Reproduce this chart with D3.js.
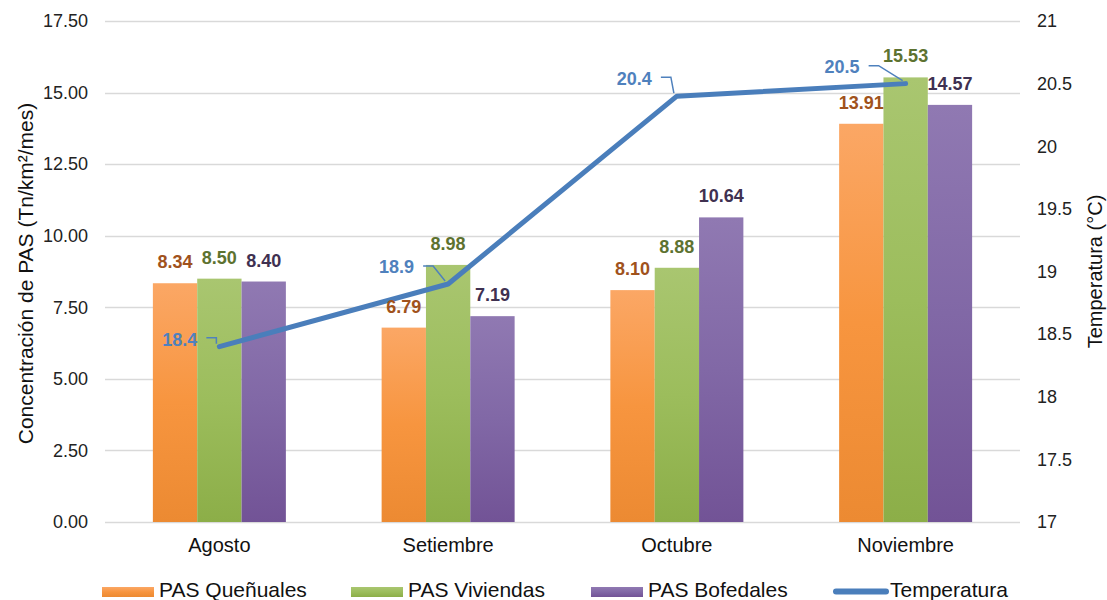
<!DOCTYPE html>
<html>
<head>
<meta charset="utf-8">
<script src="https://cdn.jsdelivr.net/npm/d3@7"></script>
<style>
  body { margin: 0; background: #fff; }
  svg { display: block; font-family: "Liberation Sans", Arial, sans-serif; }
</style>
</head>
<body>
<svg id="chart" width="1107" height="600"></svg>
<script>
// ---- data ----
const categories = ["Agosto", "Setiembre", "Octubre", "Noviembre"];
const seriesNames = ["PAS Queñuales", "PAS Viviendas", "PAS Bofedales"];
const pasQuenuales = [8.34, 6.79, 8.10, 13.91];
const pasViviendas = [8.50, 8.98, 8.88, 15.53];
const pasBofedales = [8.40, 7.19, 10.64, 14.57];
const temperatura = [18.4, 18.9, 20.4, 20.5];
const leftTicks = [0, 2.5, 5, 7.5, 10, 12.5, 15, 17.5];
const rightTicks = [17, 17.5, 18, 18.5, 19, 19.5, 20, 20.5, 21];

// ---- style ----
const barSeries = [pasQuenuales, pasViviendas, pasBofedales];
const gradStops = [
  ["#fba765", "#f7953f", "#ec8a32"],
  ["#a9c670", "#9cbd5c", "#8cae48"],
  ["#9079b2", "#8168a6", "#725396"]
];
const labelColors = ["#a0521c", "#5d7230", "#3f3151"];
const lineColor = "#4a7ebb";
const tempLabelColor = "#4f81bd";
// label placement nudges for temperature labels: [text end dx, baseline dy, leader dy]
const tempLabelNudge = [[-22, -1, -9], [-34, -11, -18], [-25, -11, -19], [-46, -11, -18]];

const svg = d3.select("#chart");
const plot = { left: 105, right: 1020, top: 21, bottom: 522 };

const x0 = d3.scaleBand().domain(categories).range([plot.left, plot.right]).padding(0);
const bw = x0.bandwidth();
const groupW = 133;
const x1 = d3.scaleBand().domain(seriesNames).range([(bw - groupW) / 2, (bw + groupW) / 2]).padding(0);
const yL = d3.scaleLinear().domain([0, 17.5]).range([plot.bottom, plot.top]);
const yR = d3.scaleLinear().domain([17, 21]).range([plot.bottom, plot.top]);

// gradients
const defs = svg.append("defs");
gradStops.forEach((stops, i) => {
  const g = defs.append("linearGradient").attr("id", "g" + i)
    .attr("x1", 0).attr("y1", 0).attr("x2", 0).attr("y2", 1);
  g.append("stop").attr("offset", "0%").attr("stop-color", stops[0]);
  g.append("stop").attr("offset", "50%").attr("stop-color", stops[1]);
  g.append("stop").attr("offset", "100%").attr("stop-color", stops[2]);
});

// grid lines
svg.append("g").selectAll("line").data(leftTicks).join("line")
  .attr("x1", plot.left).attr("x2", plot.right)
  .attr("y1", d => Math.round(yL(d)) + 0.5).attr("y2", d => Math.round(yL(d)) + 0.5)
  .attr("stroke", "#d9d9d9").attr("stroke-width", 1.5);

const FONT = "Liberation Sans, Arial, sans-serif";

// left axis
const axL = svg.append("g").attr("transform", `translate(${plot.left},0)`)
  .call(d3.axisLeft(yL).tickValues(leftTicks).tickFormat(d3.format(".2f")).tickSize(0).tickPadding(17));
axL.select(".domain").remove();
axL.selectAll("text").attr("font-size", 18).attr("fill", "#222").attr("font-family", FONT);

// right axis
const axR = svg.append("g").attr("transform", `translate(${plot.right},0)`)
  .call(d3.axisRight(yR).tickValues(rightTicks).tickFormat(d => String(d)).tickSize(0).tickPadding(17));
axR.select(".domain").remove();
axR.selectAll("text").attr("font-size", 18).attr("fill", "#222").attr("font-family", FONT);

// category axis
const axB = svg.append("g").attr("transform", `translate(0,${plot.bottom})`)
  .call(d3.axisBottom(x0).tickSize(0).tickPadding(16));
axB.select(".domain").remove();
axB.selectAll("text").attr("font-size", 20).attr("fill", "#111").attr("font-family", FONT);

// bars
barSeries.forEach((vals, si) => {
  const g = svg.append("g");
  g.selectAll("rect").data(vals).join("rect")
    .attr("x", (d, i) => x0(categories[i]) + x1(seriesNames[si]))
    .attr("width", x1.bandwidth())
    .attr("y", d => yL(d))
    .attr("height", d => yL(0) - yL(d))
    .attr("fill", `url(#g${si})`);
});

// temperature line
const line = d3.line()
  .x((d, i) => x0(categories[i]) + bw / 2)
  .y(d => yR(d));
svg.append("path").datum(temperatura)
  .attr("d", line).attr("fill", "none")
  .attr("stroke", lineColor).attr("stroke-width", 5).attr("stroke-linecap", "round").attr("stroke-linejoin", "round");

// bar labels
barSeries.forEach((vals, si) => {
  svg.append("g").selectAll("text").data(vals).join("text")
    .attr("x", (d, i) => x0(categories[i]) + x1(seriesNames[si]) + x1.bandwidth() / 2)
    .attr("y", d => yL(d) - 15)
    .attr("text-anchor", "middle")
    .attr("font-size", 18).attr("font-weight", "bold")
    .attr("fill", labelColors[si])
    .text(d => d.toFixed(2));
});

// temperature labels with leader lines
temperatura.forEach((t, i) => {
  const px = x0(categories[i]) + bw / 2;
  const py = yR(t);
  const [dx, dyText, dyLead] = tempLabelNudge[i];
  const tx = px + dx;
  svg.append("text")
    .attr("x", tx).attr("y", py + dyText)
    .attr("text-anchor", "end")
    .attr("font-size", 18).attr("font-weight", "bold")
    .attr("fill", tempLabelColor)
    .text(t.toFixed(1));
  const lx = tx + 9;
  const ly = py + dyLead;
  svg.append("path")
    .attr("d", `M${lx},${ly} L${lx + 10},${ly} L${px - 3},${py - 3}`)
    .attr("fill", "none").attr("stroke", tempLabelColor).attr("stroke-width", 1.5);
});

// axis titles
svg.append("text")
  .attr("transform", `translate(33,${(plot.top + plot.bottom) / 2 + 2}) rotate(-90)`)
  .attr("text-anchor", "middle").attr("font-size", 21).attr("fill", "#111")
  .text("Concentración de PAS (Tn/km²/mes)");
svg.append("text")
  .attr("transform", `translate(1102,${(plot.top + plot.bottom) / 2}) rotate(-90)`)
  .attr("text-anchor", "middle").attr("font-size", 20).attr("fill", "#111")
  .text("Temperatura (°C)");

// legend
const legendItems = [
  { name: seriesNames[0], type: "bar", i: 0, x: 102 },
  { name: seriesNames[1], type: "bar", i: 1, x: 351 },
  { name: seriesNames[2], type: "bar", i: 2, x: 591 },
  { name: "Temperatura", type: "line", x: 833 }
];
const lg = svg.append("g");
legendItems.forEach(it => {
  if (it.type === "bar") {
    lg.append("rect").attr("x", it.x).attr("y", 587).attr("width", 52).attr("height", 10)
      .attr("fill", `url(#g${it.i})`);
  } else {
    lg.append("line").attr("x1", it.x + 3).attr("x2", it.x + 53).attr("y1", 591.5).attr("y2", 591.5)
      .attr("stroke", lineColor).attr("stroke-width", 6).attr("stroke-linecap", "round");
  }
  lg.append("text").attr("x", it.x + 57).attr("y", 597)
    .attr("font-size", 21).attr("fill", "#111").text(it.name);
});
</script>
</body>
</html>
